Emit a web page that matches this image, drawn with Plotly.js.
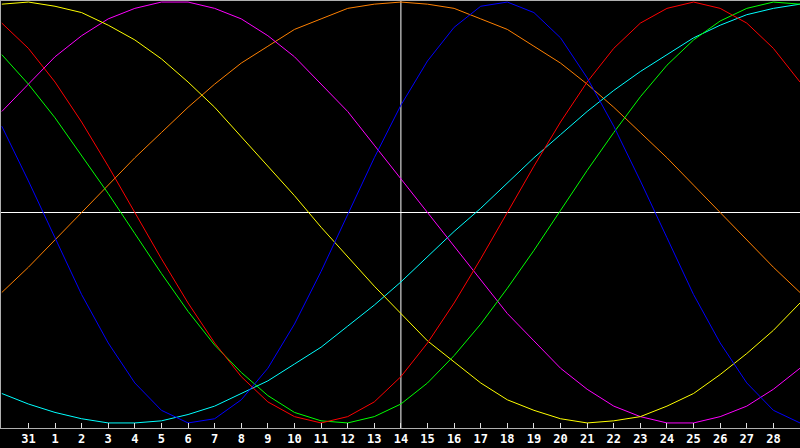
<!DOCTYPE html>
<html>
<head>
<meta charset="utf-8">
<script src="https://cdn.plot.ly/plotly-3.0.1.min.js"></script>
<style>
  html, body { margin: 0; padding: 0; background: #000; }
  #myDiv { width: 800px; height: 448px; }
</style>
</head>
<body>
<div id="myDiv"></div>
<script>
// days shown on the chart, 30 .. 29 of the next month
var days = ['30', '31', '1', '2', '3', '4', '5', '6', '7', '8', '9', '10', '11', '12', '13', '14',
  '15', '16', '17', '18', '19', '20', '21', '22', '23', '24', '25', '26', '27', '28', '29'];
var tick_days = days.slice(1, 30);
var today = '14';

var blue_data = [41, 15, -12, -39, -62, -81, -94, -100, -98, -89, -74, -53, -28, -1, 26, 51,
  72, 88, 98, 100, 95, 83, 64, 41, 15, -12, -39, -62, -81, -94, -100];
var red_data = [90, 78, 62, 43, 22, 0, -22, -43, -62, -78, -90, -97, -100, -97, -90, -78,
  -62, -43, -22, 0, 22, 43, 62, 78, 90, 97, 100, 97, 90, 78, 62];
var green_data = [75, 61, 45, 27, 9, -10, -29, -47, -63, -76, -87, -95, -99, -100, -97, -91,
  -81, -68, -53, -36, -18, 1, 20, 38, 55, 70, 82, 91, 97, 100, 99];
var yellow_data = [99, 100, 98, 95, 89, 82, 73, 62, 50, 36, 22, 8, -7, -21, -35, -48,
  -61, -71, -81, -89, -94, -98, -100, -99, -97, -92, -86, -77, -67, -56, -43];
var magenta_data = [48, 61, 74, 84, 92, 97, 100, 100, 97, 92, 84, 74, 61, 48, 32, 16,
  0, -16, -32, -48, -61, -74, -84, -92, -97, -100, -100, -97, -92, -84, -74];
var orange_data = [-38, -26, -13, 0, 13, 26, 38, 50, 61, 71, 79, 87, 92, 97, 99, 100,
  99, 97, 92, 87, 79, 71, 61, 50, 38, 26, 13, 0, -13, -26, -38];
var cyan_data = [-86, -91, -95, -98, -100, -100, -99, -96, -92, -86, -80, -72, -64, -54, -44, -33,
  -21, -9, 2, 14, 26, 37, 48, 58, 67, 75, 83, 89, 94, 97, 99];

function curve(values, color) {
  return {
    x: days,
    y: values,
    type: 'scatter',
    mode: 'lines',
    line: { color: color, width: 1 },
    hoverinfo: 'skip'
  };
}

var data = [
  curve(orange_data, '#ff8000'),
  curve(cyan_data, '#00ffff'),
  curve(magenta_data, '#ff00ff'),
  curve(yellow_data, '#ffff00'),
  curve(green_data, '#00ff00'),
  curve(red_data, '#ff0000'),
  curve(blue_data, '#0000ff')
];

// category axis: shapes take the category position
var today_pos = days.indexOf(today);

var layout = {
  width: 800,
  height: 448,
  paper_bgcolor: '#000000',
  plot_bgcolor: '#000000',
  showlegend: false,
  margin: { l: 1, r: 0, t: 1, b: 20 },
  xaxis: {
    type: 'category',
    categoryorder: 'array',
    categoryarray: days,
    range: [-0.03, 30],
    tickvals: tick_days,
    ticktext: tick_days,
    ticks: 'inside',
    ticklen: 5,
    tickwidth: 1,
    tickcolor: '#e0e0e0',
    showline: true,
    mirror: true,
    linecolor: '#b0b0b0',
    linewidth: 1,
    showgrid: false,
    zeroline: false,
    tickfont: { family: 'DejaVu Sans Mono', size: 12, color: '#ffffff', weight: 'bold' },
    fixedrange: true
  },
  yaxis: {
    range: [-102.4, 100.5],
    showticklabels: false,
    ticks: '',
    showgrid: false,
    showline: true,
    linecolor: '#b0b0b0',
    linewidth: 1,
    zeroline: true,
    zerolinecolor: '#ffffff',
    zerolinewidth: 1,
    fixedrange: true
  },
  shapes: [{
    type: 'line',
    xref: 'x',
    yref: 'paper',
    x0: today_pos,
    x1: today_pos,
    y0: 0,
    y1: 1,
    line: { color: '#ffffff', width: 1 },
    layer: 'below'
  }]
};

Plotly.newPlot('myDiv', data, layout, { staticPlot: true });
</script>
</body>
</html>
